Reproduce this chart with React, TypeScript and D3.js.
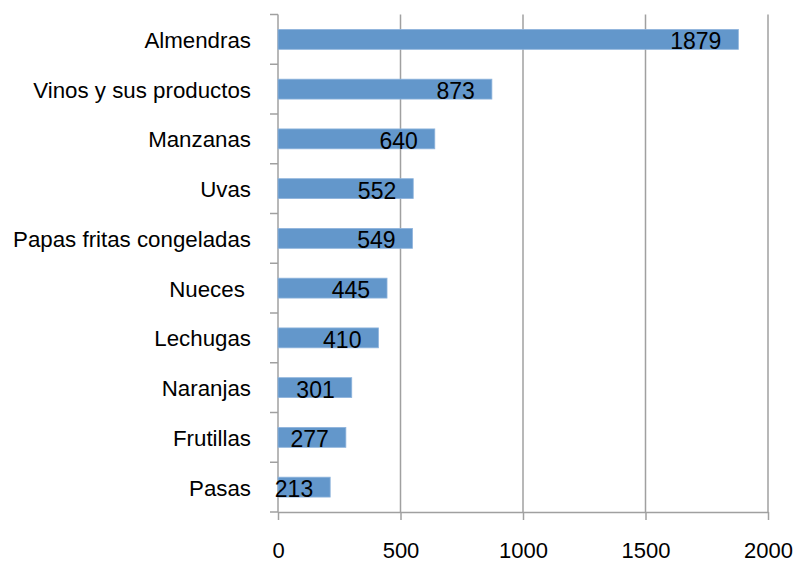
import React, { useEffect, useRef } from 'react';
import * as d3 from 'd3';

// Data
const categories = [
  'Almendras',
  'Vinos y sus productos',
  'Manzanas',
  'Uvas',
  'Papas fritas congeladas',
  'Nueces ',
  'Lechugas',
  'Naranjas',
  'Frutillas',
  'Pasas',
];
const values = [1879, 873, 640, 552, 549, 445, 410, 301, 277, 213];
const xTicks = [0, 500, 1000, 1500, 2000];

const FONT = '"Liberation Sans", Arial, sans-serif';

const App: React.FC = () => {
  const chartRef = useRef<SVGSVGElement | null>(null);

  useEffect(() => {
    d3.select(chartRef.current).selectAll('*').remove();

    const totalW = 796;
    const totalH = 562;
    const margin = { top: 14.5, right: 28, bottom: 50, left: 278 };
    const width = totalW - margin.left - margin.right;
    const height = totalH - margin.top - margin.bottom;

    const svg = d3
      .select(chartRef.current)
      .attr('width', totalW)
      .attr('height', totalH)
      .append('g')
      .attr('transform', `translate(${margin.left},${margin.top})`);

    const xScale = d3.scaleLinear().domain([0, 2000]).range([0, width]);

    const yScale = d3
      .scaleBand()
      .domain(categories)
      .range([0, height])
      .paddingInner(0.6)
      .paddingOuter(0.3);

    const step = yScale.step();
    const grey = '#a0a0a0';

    // Vertical gridlines
    svg
      .selectAll('.grid')
      .data(xTicks.slice(1))
      .enter()
      .append('line')
      .attr('x1', (d) => xScale(d))
      .attr('x2', (d) => xScale(d))
      .attr('y1', 0)
      .attr('y2', height)
      .attr('stroke', grey)
      .attr('stroke-width', 1.5);

    // Bottom axis
    const xAxis = d3
      .axisBottom(xScale)
      .tickValues(xTicks)
      .tickSize(8)
      .tickSizeOuter(0)
      .tickFormat(d3.format('d'));
    const gx = svg.append('g').attr('transform', `translate(0,${height})`).call(xAxis);
    gx.select('.domain').attr('stroke', grey).attr('stroke-width', 1.5);
    gx.selectAll('.tick line').attr('stroke', grey).attr('stroke-width', 1.5);
    gx.selectAll('.tick text')
      .attr('y', 46)
      .attr('dy', 0)
      .attr('fill', '#000')
      .style('font-family', FONT)
      .style('font-size', '22px');

    // Left axis line and category ticks at band boundaries
    svg
      .append('line')
      .attr('x1', 0)
      .attr('x2', 0)
      .attr('y1', 0)
      .attr('y2', height)
      .attr('stroke', grey)
      .attr('stroke-width', 1.5);

    const boundaries = categories.map((c) => yScale(c)! + yScale.bandwidth() / 2 - step / 2);
    boundaries.push(height);
    svg
      .selectAll('.ytick')
      .data(boundaries)
      .enter()
      .append('line')
      .attr('x1', -8)
      .attr('x2', 0)
      .attr('y1', (d) => d)
      .attr('y2', (d) => d)
      .attr('stroke', grey)
      .attr('stroke-width', 1.5);

    // Category labels
    svg
      .selectAll('.cat')
      .data(categories)
      .enter()
      .append('text')
      .attr('x', -27)
      .attr('y', (d) => yScale(d)! + yScale.bandwidth() / 2 + 8.5)
      .attr('text-anchor', 'end')
      .style('white-space', 'pre')
      .style('font-family', FONT)
      .style('font-size', '22.3px')
      .attr('fill', '#000')
      .text((d) => d);

    // Bars
    svg
      .selectAll('.bar')
      .data(values)
      .enter()
      .append('rect')
      .attr('x', 0)
      .attr('y', (_, i) => yScale(categories[i])!)
      .attr('width', (d) => xScale(d))
      .attr('height', yScale.bandwidth())
      .attr('fill', '#6397cb')
      .attr('stroke', '#8fb4dc')
      .attr('stroke-width', 0.8);

    // Value labels (inside end)
    svg
      .selectAll('.val')
      .data(values)
      .enter()
      .append('text')
      .attr('x', (d) => xScale(d) - 17)
      .attr('y', (_, i) => yScale(categories[i])! + yScale.bandwidth())
      .attr('text-anchor', 'end')
      .style('font-family', FONT)
      .style('font-size', '23px')
      .attr('fill', '#000')
      .text((d) => d);
  }, []);

  return (
    <div style={{ position: 'absolute', left: 0, top: 0 }}>
      <svg ref={chartRef} style={{ display: 'block', background: '#fff' }}></svg>
    </div>
  );
};

export default App;
